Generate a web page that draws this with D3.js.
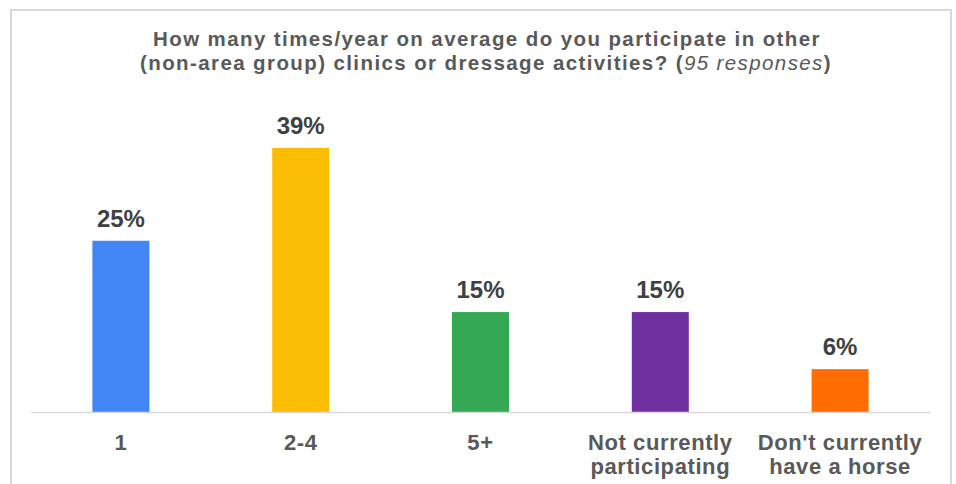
<!DOCTYPE html>
<html>
<head>
<meta charset="utf-8">
<script src="https://cdn.jsdelivr.net/npm/d3@7"></script>
<style>
  html, body { margin: 0; padding: 0; background: #fff; }
  svg { display: block; }
  text { font-family: "Liberation Sans", Arial, sans-serif; }
</style>
</head>
<body>
<svg id="chart" width="956" height="484"></svg>
<script>
const categories = ["1", "2-4", "5+", "Not currently|participating", "Don't currently|have a horse"];
const values = [25.26, 38.95, 14.74, 14.74, 6.32];
const valueLabels = ["25%", "39%", "15%", "15%", "6%"];
const colors = ["#4285f4", "#fbbc04", "#34a853", "#7030a0", "#ff6d01"];
const titleLine1 = "How many times/year on average do you participate in other";
const titleLine2a = "(non-area group) clinics or dressage activities? (";
const titleLine2b = "95 responses";
const titleLine2c = ")";

const svg = d3.select("#chart");

// chart border
svg.append("rect")
  .attr("x", 11).attr("y", 10)
  .attr("width", 940).attr("height", 490)
  .attr("fill", "#fff")
  .attr("stroke", "#d9d9d9").attr("stroke-width", 2);

// title
const title = svg.append("text")
  .attr("text-anchor", "middle")
  .attr("fill", "#595959")
  .attr("font-size", 20.5)
  .attr("font-weight", "bold")
  .style("letter-spacing", "1.4px");
title.append("tspan").attr("x", 487).attr("y", 46.3).text(titleLine1);
const t2 = title.append("tspan").attr("x", 486).attr("y", 69.5);
t2.text(titleLine2a);
title.append("tspan").attr("font-style", "italic").attr("font-weight", "normal").text(titleLine2b);
title.append("tspan").text(titleLine2c);

const plotLeft = 31, plotRight = 930, baseline = 412;

const x = d3.scaleBand()
  .domain(categories)
  .range([plotLeft, plotRight])
  .paddingInner(0.683)
  .paddingOuter(0.3415);

const y = d3.scaleLinear()
  .domain([0, 45])
  .range([baseline, baseline - 45 * 6.78]);

// bars
svg.selectAll("rect.bar")
  .data(values)
  .enter().append("rect")
  .attr("class", "bar")
  .attr("x", (d, i) => x(categories[i]))
  .attr("width", x.bandwidth())
  .attr("y", d => y(d))
  .attr("height", d => y(0) - y(d))
  .attr("fill", (d, i) => colors[i]);

// baseline axis
const xAxis = d3.axisBottom(x).tickSize(0).tickFormat("");
const axisG = svg.append("g")
  .attr("transform", `translate(0,${baseline})`)
  .call(xAxis);
axisG.select(".domain").attr("stroke", "#d9d9d9").attr("stroke-width", 1.5);

// category labels
categories.forEach((c, i) => {
  const lines = c.split("|");
  const t = svg.append("text")
    .attr("text-anchor", "middle")
    .attr("fill", "#595959")
    .attr("font-size", 22)
    .attr("font-weight", "bold")
    .style("letter-spacing", "0.6px");
  lines.forEach((ln, j) => {
    t.append("tspan")
      .attr("x", x(c) + x.bandwidth() / 2)
      .attr("y", 450 + j * 23.5)
      .text(ln);
  });
});

// value labels
svg.selectAll("text.val")
  .data(values)
  .enter().append("text")
  .attr("class", "val")
  .attr("text-anchor", "middle")
  .attr("fill", "#404040")
  .attr("font-size", 24)
  .attr("font-weight", "bold")
  .attr("x", (d, i) => x(categories[i]) + x.bandwidth() / 2)
  .attr("y", d => y(d) - 14)
  .text((d, i) => valueLabels[i]);
</script>
</body>
</html>
